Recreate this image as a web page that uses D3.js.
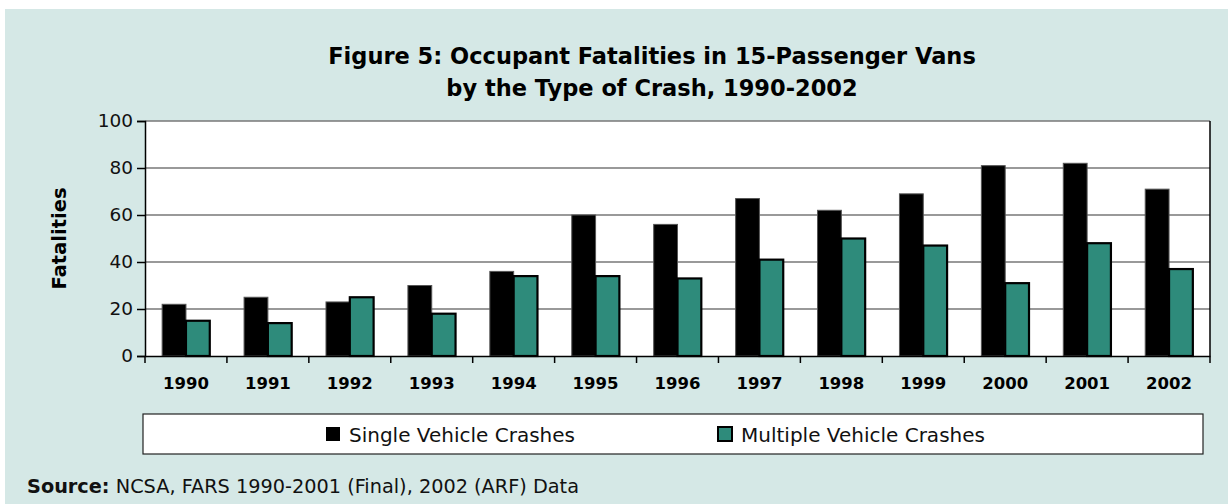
<!DOCTYPE html>
<html>
<head>
<meta charset="utf-8">
<script src="https://cdn.jsdelivr.net/npm/d3@7"></script>
<style>
  body { margin: 0; background: #fff; }
  svg { display: block; font-family: "DejaVu Sans", sans-serif; }
</style>
</head>
<body>
<div id="chart"></div>
<script>
const years = ["1990", "1991", "1992", "1993", "1994", "1995", "1996", "1997", "1998", "1999", "2000", "2001", "2002"];
const singleVehicle = [22, 25, 23, 30, 36, 60, 56, 67, 62, 69, 81, 82, 71];
const multipleVehicle = [15, 14, 25, 18, 34, 34, 33, 41, 50, 47, 31, 48, 37];
const seriesNames = ["Single Vehicle Crashes", "Multiple Vehicle Crashes"];
const yTicks = [0, 20, 40, 60, 80, 100];

const width = 1228, height = 504;
const plot = { left: 145, right: 1210, top: 121, bottom: 356 };

const svg = d3.select("#chart").append("svg")
  .attr("width", width).attr("height", height);

// panel background
svg.append("rect").attr("x", 5).attr("y", 9)
  .attr("width", width - 5).attr("height", height - 9)
  .attr("fill", "#d5e8e6");

const x = d3.scaleBand().domain(years).range([plot.left, plot.right]);
const x1 = d3.scaleBand().domain(seriesNames).range([0, x.bandwidth()])
  .paddingOuter(0.72).paddingInner(0);
const y = d3.scaleLinear().domain([0, 100]).range([plot.bottom, plot.top]);
const color = d3.scaleOrdinal().domain(seriesNames).range(["#000000", "#2e8b7b"]);

// plot area
svg.append("rect").attr("x", plot.left).attr("y", plot.top)
  .attr("width", plot.right - plot.left).attr("height", plot.bottom - plot.top)
  .attr("fill", "#fff");

// gridlines
svg.append("g").attr("stroke", "#777").attr("stroke-width", 1.5)
  .selectAll("line").data(yTicks.filter((d) => d > 0)).join("line")
  .attr("x1", plot.left).attr("x2", plot.right)
  .attr("y1", (d) => y(d)).attr("y2", (d) => y(d));

// right border
svg.append("line").attr("x1", plot.right).attr("x2", plot.right)
  .attr("y1", plot.top).attr("y2", plot.bottom + 7)
  .attr("stroke", "#000").attr("stroke-width", 1.5);

// bars
const rows = years.map((yr, i) => ({ year: yr, values: [singleVehicle[i], multipleVehicle[i]] }));
const group = svg.append("g").selectAll("g").data(rows).join("g")
  .attr("transform", (d) => `translate(${x(d.year)},0)`);

group.selectAll("rect")
  .data((d) => d.values.map((v, j) => ({ key: seriesNames[j], value: v })))
  .join("rect")
  .attr("x", (d) => x1(d.key))
  .attr("y", (d) => y(d.value))
  .attr("width", x1.bandwidth())
  .attr("height", (d) => y(0) - y(d.value))
  .attr("fill", (d) => color(d.key))
  .attr("stroke", (d) => (d.key === seriesNames[0] ? "#555" : "#000"))
  .attr("stroke-width", (d) => (d.key === seriesNames[0] ? 1 : 2.2));

// y axis
const yAxis = svg.append("g").attr("transform", `translate(${plot.left},0)`)
  .call(d3.axisLeft(y).tickValues(yTicks).tickSize(8).tickPadding(4));
yAxis.select(".domain").attr("stroke-width", 1.5);
yAxis.selectAll(".tick line").attr("stroke-width", 1.5);
yAxis.selectAll("text").attr("font-size", 18.5).attr("fill", "#111")
  .attr("font-family", "DejaVu Sans");

// x axis
const xAxis = svg.append("g").attr("transform", `translate(0,${plot.bottom})`)
  .call(d3.axisBottom(x).tickSize(0).tickPadding(21));
xAxis.select(".domain").attr("stroke-width", 1.5);
xAxis.selectAll("text").attr("font-size", 16.5).attr("font-weight", "bold")
  .attr("fill", "#000").attr("font-family", "DejaVu Sans");
svg.append("g").attr("stroke", "#000").attr("stroke-width", 1.5)
  .selectAll("line").data(years).join("line")
  .attr("x1", (d) => x(d)).attr("x2", (d) => x(d))
  .attr("y1", plot.bottom).attr("y2", plot.bottom + 7);

// y axis title
svg.append("text")
  .attr("transform", `translate(66,${(plot.top + plot.bottom) / 2}) rotate(-90)`)
  .attr("text-anchor", "middle")
  .attr("font-size", 19.5).attr("font-weight", "bold")
  .text("Fatalities");

// title
const title = svg.append("text").attr("text-anchor", "middle")
  .attr("font-size", 22.5).attr("font-weight", "bold");
title.append("tspan").attr("x", 652).attr("y", 64)
  .text("Figure 5: Occupant Fatalities in 15-Passenger Vans");
title.append("tspan").attr("x", 652).attr("y", 96)
  .text("by the Type of Crash, 1990-2002");

// legend
svg.append("rect").attr("x", 143).attr("y", 414)
  .attr("width", 1060).attr("height", 40)
  .attr("fill", "#fff").attr("stroke", "#222").attr("stroke-width", 1.2);

const legendPos = [326, 718];
const legend = svg.append("g").selectAll("g").data(seriesNames).join("g")
  .attr("transform", (d, i) => `translate(${legendPos[i]},427)`);
legend.append("rect")
  .attr("width", 14).attr("height", 14)
  .attr("fill", (d) => color(d))
  .attr("stroke", "#000").attr("stroke-width", (d, i) => (i ? 2 : 0));
legend.append("text")
  .attr("x", 23).attr("y", 15)
  .attr("font-size", 20).attr("fill", "#111")
  .text((d) => d);

// source
const src = svg.append("text").attr("x", 27).attr("y", 493)
  .attr("font-size", 19.3).attr("fill", "#111");
src.append("tspan").attr("font-weight", "bold").text("Source:");
src.append("tspan").text(" NCSA, FARS 1990-2001 (Final), 2002 (ARF) Data");
</script>
</body>
</html>
